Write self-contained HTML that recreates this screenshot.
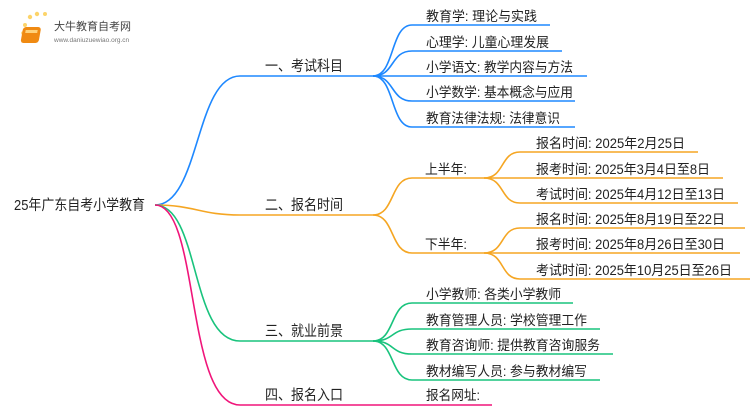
<!DOCTYPE html>
<html><head><meta charset="utf-8"><style>
html,body{margin:0;padding:0;background:#fff;width:750px;height:410px;overflow:hidden}
svg text{font-family:"Liberation Sans","Noto Sans CJK SC",sans-serif;fill:#222}
</style></head><body>
<svg width="750" height="410" viewBox="0 0 750 410" xmlns="http://www.w3.org/2000/svg">
<g fill="none" stroke-width="1.6">
<g stroke="#1e88ff">
<path d="M155,205 C200,205 195,76 240,76 L373,76"/>
<path d="M373,76 C395,76 390,25 412,25 L550,25"/>
<path d="M373,76 C395,76 390,51 412,51 L562,51"/>
<path d="M373,76 L587,76"/>
<path d="M373,76 C395,76 390,101 412,101 L575,101"/>
<path d="M373,76 C395,76 390,127 412,127 L575,127"/>
</g>
<g stroke="#f5a623">
<path d="M155,205 C195,205 200,215 240,215 L373,215"/>
<path d="M373,215 C395,215 390,178 412,178 L484,178"/>
<path d="M373,215 C395,215 390,253 412,253 L484,253"/>
<path d="M484,178 C505,178 500,152 520,152 L698,152"/>
<path d="M484,178 L723,178"/>
<path d="M484,178 C505,178 500,203 520,203 L738,203"/>
<path d="M484,253 C505,253 500,228 520,228 L745,228"/>
<path d="M484,253 L740,253"/>
<path d="M484,253 C505,253 500,279 520,279 L750,279"/>
</g>
<g stroke="#19c37d">
<path d="M155,205 C200,205 190,341 240,341 L373,341"/>
<path d="M373,341 C395,341 390,303 412,303 L573,303"/>
<path d="M373,341 C395,341 390,329 412,329 L600,329"/>
<path d="M373,341 C395,341 390,354 412,354 L613,354"/>
<path d="M373,341 C395,341 390,380 412,380 L600,380"/>
</g>
<g stroke="#f0157a">
<path d="M155,205 C200,205 185,405 240,405 L492,405"/>
</g>
</g>
<g>
<circle cx="25" cy="25" r="2" fill="#fcd46a"/><circle cx="30" cy="17" r="2.2" fill="#fcd46a"/><circle cx="37" cy="14" r="2.2" fill="#fcd46a"/><circle cx="23" cy="33" r="1.8" fill="#fcd46a"/><circle cx="45" cy="14" r="2" fill="#fcd46a"/>
<rect x="28" y="27" width="18" height="16" rx="3" fill="#f08a12" transform="skewX(-10)"/>
<rect x="31" y="30" width="12" height="3" fill="#ffd27a" transform="skewX(-10)"/>
<text x="54" y="30" font-size="11" style="fill:#444">大牛教育自考网</text>
<text x="54" y="42" font-size="6.5" style="fill:#777">www.daniuzuewiao.org.cn</text>
</g>
<g font-size="14.5" lengthAdjust="spacingAndGlyphs">
<text x="14" y="210" textLength="131" lengthAdjust="spacingAndGlyphs">25年广东自考小学教育</text>
<text x="265" y="71" textLength="78" lengthAdjust="spacingAndGlyphs">一、考试科目</text>
<text x="265" y="210" textLength="78" lengthAdjust="spacingAndGlyphs">二、报名时间</text>
<text x="265" y="336" textLength="78" lengthAdjust="spacingAndGlyphs">三、就业前景</text>
<text x="265" y="400" textLength="78" lengthAdjust="spacingAndGlyphs">四、报名入口</text>
</g>
<g font-size="13.5">
<text x="426" y="21" textLength="111" lengthAdjust="spacingAndGlyphs">教育学: 理论与实践</text>
<text x="426" y="47" textLength="123" lengthAdjust="spacingAndGlyphs">心理学: 儿童心理发展</text>
<text x="426" y="72" textLength="147" lengthAdjust="spacingAndGlyphs">小学语文: 教学内容与方法</text>
<text x="426" y="97" textLength="147" lengthAdjust="spacingAndGlyphs">小学数学: 基本概念与应用</text>
<text x="426" y="123" textLength="134" lengthAdjust="spacingAndGlyphs">教育法律法规: 法律意识</text>
<text x="425" y="174" textLength="42" lengthAdjust="spacingAndGlyphs">上半年:</text>
<text x="425" y="249" textLength="42" lengthAdjust="spacingAndGlyphs">下半年:</text>
<text x="536" y="148" textLength="149" lengthAdjust="spacingAndGlyphs">报名时间: 2025年2月25日</text>
<text x="536" y="174" textLength="174" lengthAdjust="spacingAndGlyphs">报考时间: 2025年3月4日至8日</text>
<text x="536" y="199" textLength="189" lengthAdjust="spacingAndGlyphs">考试时间: 2025年4月12日至13日</text>
<text x="536" y="224" textLength="189" lengthAdjust="spacingAndGlyphs">报名时间: 2025年8月19日至22日</text>
<text x="536" y="249" textLength="189" lengthAdjust="spacingAndGlyphs">报考时间: 2025年8月26日至30日</text>
<text x="536" y="275" textLength="196" lengthAdjust="spacingAndGlyphs">考试时间: 2025年10月25日至26日</text>
<text x="426" y="299" textLength="135" lengthAdjust="spacingAndGlyphs">小学教师: 各类小学教师</text>
<text x="426" y="325" textLength="161" lengthAdjust="spacingAndGlyphs">教育管理人员: 学校管理工作</text>
<text x="426" y="350" textLength="174" lengthAdjust="spacingAndGlyphs">教育咨询师: 提供教育咨询服务</text>
<text x="426" y="376" textLength="161" lengthAdjust="spacingAndGlyphs">教材编写人员: 参与教材编写</text>
<text x="426" y="400" textLength="54" lengthAdjust="spacingAndGlyphs">报名网址:</text>
</g>
</svg>
</body></html>
